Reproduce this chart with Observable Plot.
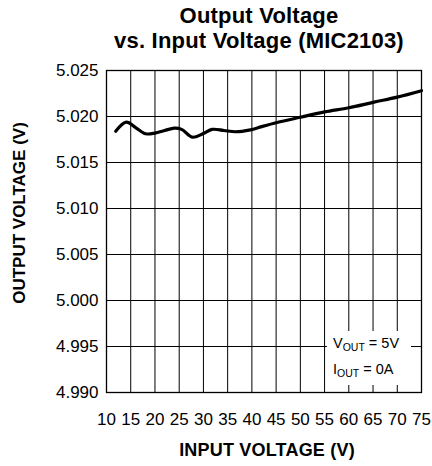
<!DOCTYPE html>
<html>
<head>
<meta charset="utf-8">
<script src="https://cdn.jsdelivr.net/npm/d3@7"></script>
<script src="https://cdn.jsdelivr.net/npm/@observablehq/plot@0.6"></script>
<style>
  html, body { margin: 0; padding: 0; background: #fff; }
  #wrap { position: relative; width: 432px; height: 466px; font-family: "Liberation Sans", Arial, sans-serif; color: #000; }
  #chart svg text { font-size: 17px !important; font-family: "Liberation Sans", Arial, sans-serif !important; }
  #title { position: absolute; left: 96px; width: 326px; top: 3px; text-align: center; font-weight: bold; font-size: 22px; line-height: 25px; letter-spacing: 0.2px; }
  #xlabel { position: absolute; left: 117px; width: 300px; top: 440px; text-align: center; font-weight: bold; font-size: 18px; line-height: 20px; letter-spacing: 0.2px; }
  #ylabel { position: absolute; left: 20px; top: 213px; transform: translate(-50%, -50%) rotate(-90deg); white-space: nowrap; font-weight: bold; font-size: 17px; line-height: 20px; }
  #note { position: absolute; left: 327px; top: 331px; width: 84px; height: 54px; background: #fff; font-size: 14.5px; line-height: 25px; }
  #note div { padding-left: 6px; white-space: nowrap; }
  #note span.s { font-size: 10.5px; position: relative; top: 3px; }
</style>
</head>
<body>
<div id="wrap">
  <div id="chart"></div>
  <div id="title">Output Voltage<br>vs. Input Voltage (MIC2103)</div>
  <div id="ylabel">OUTPUT VOLTAGE (V)</div>
  <div id="xlabel">INPUT VOLTAGE (V)</div>
  <div id="note"><div>V<span class="s">OUT</span> = 5V</div><div>I<span class="s">OUT</span> = 0A</div></div>
</div>
<script>
const inputVoltage = [11.9, 14.1, 16, 18.1, 20, 22, 24, 25.5, 27.7, 30, 31.8, 34.2, 36.6, 39.7, 42, 45.2, 50, 55, 60, 65.2, 70, 75];
const outputVoltage = [5.0184, 5.01938, 5.0188, 5.01812, 5.0182, 5.01848, 5.01873, 5.0186, 5.01775, 5.01815, 5.0186, 5.01848, 5.01834, 5.01855, 5.0189, 5.01935, 5.01992, 5.0205, 5.02095, 5.02156, 5.0221, 5.0228];
const xTicks = [10, 15, 20, 25, 30, 35, 40, 45, 50, 55, 60, 65, 70, 75];
const yTicks = [4.990, 4.995, 5.000, 5.005, 5.010, 5.015, 5.020, 5.025];

const data = inputVoltage.map((v, i) => ({vin: v, vout: outputVoltage[i]}));

const chart = Plot.plot({
  width: 432,
  height: 466,
  marginTop: 70,
  marginLeft: 106,
  marginRight: 11,
  marginBottom: 74,
  x: {domain: [10, 75]},
  y: {domain: [4.990, 5.025]},
  style: {fontFamily: "'Liberation Sans', Arial, sans-serif", fontSize: "17px", color: "#000", background: "transparent"},
  marks: [
    Plot.gridX(xTicks, {stroke: "#000", strokeOpacity: 1, strokeWidth: 1}),
    Plot.gridY(yTicks, {stroke: "#000", strokeOpacity: 1, strokeWidth: 1}),
    Plot.frame({stroke: "#000", strokeWidth: 1.3}),
    Plot.line(data, {x: "vin", y: "vout", curve: "catmull-rom", stroke: "#000", strokeWidth: 3.2}),
    Plot.axisX(xTicks, {tickSize: 0, tickPadding: 20, label: null}),
    Plot.axisY(yTicks, {tickSize: 0, tickPadding: 8, label: null, tickFormat: d3.format(".3f")})
  ]
});
document.getElementById("chart").appendChild(chart);
</script>
</body>
</html>
